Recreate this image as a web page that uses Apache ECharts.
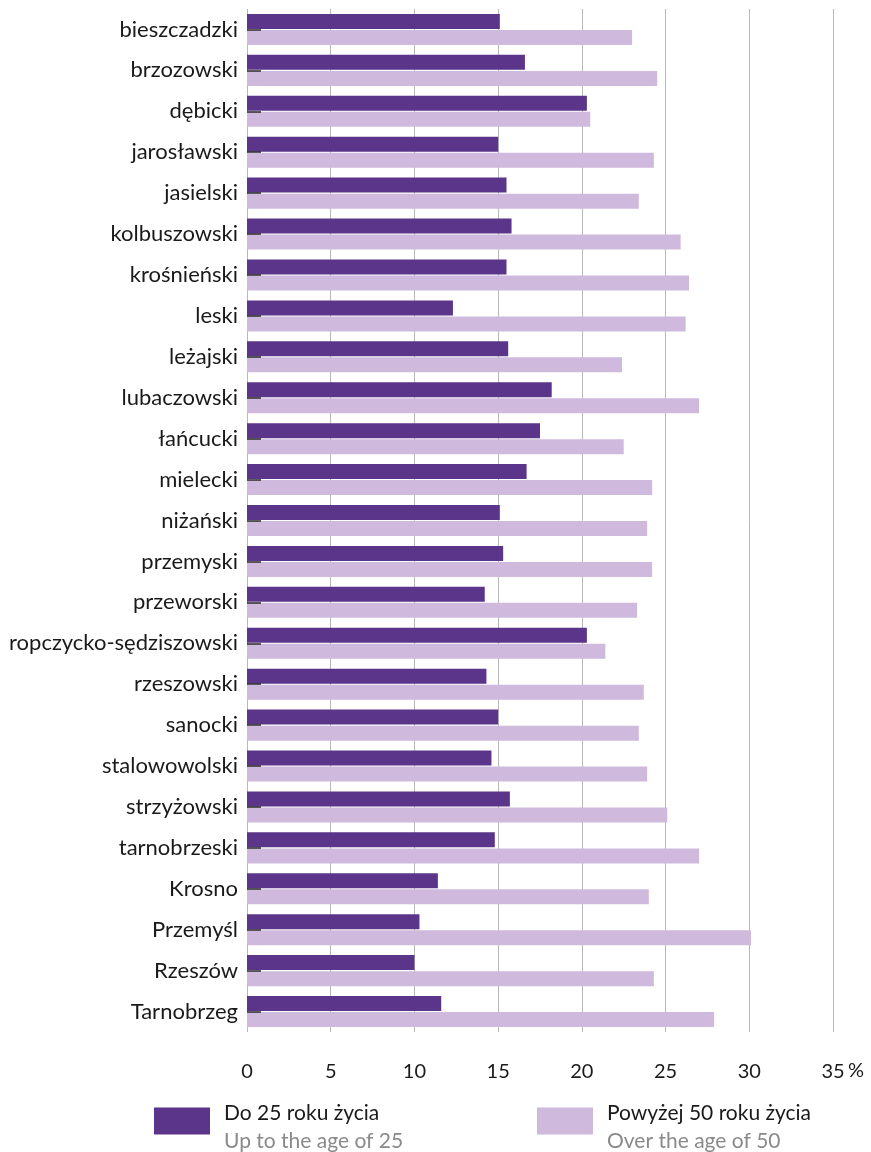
<!DOCTYPE html>
<html>
<head>
<meta charset="utf-8">
<script src="https://cdn.jsdelivr.net/npm/echarts@6/dist/echarts.min.js"></script>
<style>
html,body{margin:0;padding:0;background:#fff;}
#main{width:871px;height:1152px;}
</style>
</head>
<body>
<div id="main"></div>
<script>
const categories = ['bieszczadzki','brzozowski','dębicki','jarosławski','jasielski','kolbuszowski','krośnieński','leski','leżajski','lubaczowski','łańcucki','mielecki','niżański','przemyski','przeworski','ropczycko-sędziszowski','rzeszowski','sanocki','stalowowolski','strzyżowski','tarnobrzeski','Krosno','Przemyśl','Rzeszów','Tarnobrzeg'];
const under25 = [15.1,16.6,20.3,15.0,15.5,15.8,15.5,12.3,15.6,18.2,17.5,16.7,15.1,15.3,14.2,20.3,14.3,15.0,14.6,15.7,14.8,11.4,10.3,10.0,11.6];
const over50 = [23.0,24.5,20.5,24.3,23.4,25.9,26.4,26.2,22.4,27.0,22.5,24.2,23.9,24.2,23.3,21.4,23.7,23.4,23.9,25.1,27.0,24.0,30.1,24.3,27.9];
const xTicks = [0,5,10,15,20,25,30,35];
const seriesNames = ['Do 25 roku życia','Powyżej 50 roku życia'];
const seriesNamesEn = ['Up to the age of 25','Over the age of 50'];

const FONT = 'Lato';
const chart = echarts.init(document.getElementById('main'));
const legendFmt = function(name){
  const i = seriesNames.indexOf(name);
  return '{a|' + name + '}\n{b|' + seriesNamesEn[i] + '}';
};
const legendRich = {
  a:{fontFamily:FONT,fontSize:21,color:'#1a1a1a',lineHeight:28,padding:[0,0,0,9]},
  b:{fontFamily:FONT,fontSize:21,color:'#8a8a8a',lineHeight:28,padding:[0,0,0,9]}
};
chart.setOption({
  animation:false,
  grid:{left:247,right:38,top:9,bottom:120,containLabel:false},
  xAxis:{
    type:'value',min:0,max:35,interval:5,
    axisLine:{show:false},axisTick:{show:false},
    axisLabel:{fontFamily:FONT,fontSize:20,color:'#1a1a1a',margin:30,
      formatter:function(v){return xTicks.indexOf(v)>=0?String(v):'';}},
    splitLine:{show:true,lineStyle:{color:'#b8b8b8',width:1}}
  },
  yAxis:{
    type:'category',data:categories,inverse:true,z:5,
    axisLine:{show:false},
    axisTick:{show:true,inside:true,length:14,alignWithLabel:true,lineStyle:{color:'#2a2a2a',width:1.5}},
    axisLabel:{fontFamily:FONT,fontSize:22,color:'#1a1a1a',margin:9}
  },
  legend:[
    {data:[seriesNames[0]],left:154,top:1103,padding:0,itemWidth:56,itemHeight:27,icon:'rect',
     formatter:legendFmt,textStyle:{rich:legendRich,padding:[13,0,0,0]},selectedMode:false},
    {data:[seriesNames[1]],left:537,top:1103,padding:0,itemWidth:56,itemHeight:27,icon:'rect',
     formatter:legendFmt,textStyle:{rich:legendRich,padding:[13,0,0,0]},selectedMode:false}
  ],
  graphic:[{type:'text',left:848,top:1061,style:{text:'%',fontFamily:FONT,fontSize:20,fill:'#1a1a1a'}}],
  series:[
    {name:seriesNames[0],type:'bar',data:under25,barWidth:15,barGap:'7%',
     itemStyle:{color:'#5b358a'}},
    {name:seriesNames[1],type:'bar',data:over50,barWidth:15,barGap:'7%',
     itemStyle:{color:'#cfb9dc'}}
  ]
});
</script>
</body>
</html>
